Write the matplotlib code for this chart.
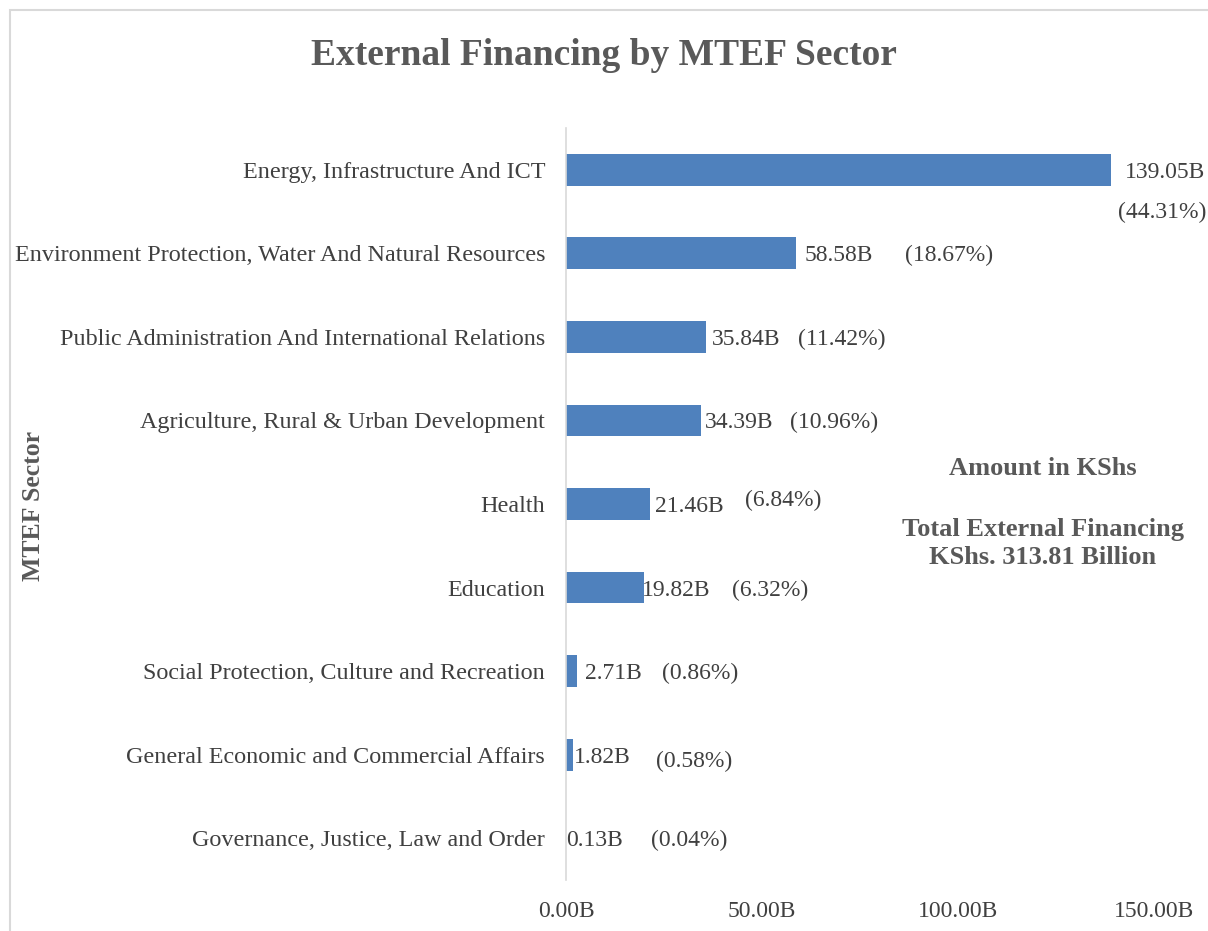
import matplotlib.pyplot as plt
from matplotlib.patches import Rectangle
from matplotlib.ticker import FuncFormatter

plt.rcParams['font.family'] = ['Liberation Serif', 'DejaVu Serif']

sectors = [
    "Energy, Infrastructure And ICT",
    "Environment Protection, Water And Natural Resources",
    "Public Administration And International Relations",
    "Agriculture, Rural & Urban Development",
    "Health",
    "Education",
    "Social Protection, Culture and Recreation",
    "General Economic and Commercial Affairs",
    "Governance, Justice, Law and Order",
]
amounts = [139.05, 58.58, 35.84, 34.39, 21.46, 19.82, 2.71, 1.82, 0.13]
shares = [44.31, 18.67, 11.42, 10.96, 6.84, 6.32, 0.86, 0.58, 0.04]

# label offsets from the bar end, in pixels (as placed in the original chart)
val_dx = [14, 9, 5, 4, 5, -2, 8, 1, 0]
pct_dx = [7, 109, 92, 89, 95, 88, 85, 83, 85]
pct_dy = [-40, 0, 0, 0, 6, 0, 0, -4, 0]

blue = '#4F81BD'
grey = '#595959'
dark = '#404040'

fig = plt.figure(figsize=(12.08, 9.31), dpi=100)
ax = fig.add_axes([0.4685, 0.0548, 0.4868, 0.8077])

y = list(range(len(sectors)))
ax.barh(y, amounts, height=0.38, color=blue)
ax.set_ylim(len(sectors) - 0.5, -0.5)
ax.set_xlim(0, 150)
ax.set_xticks([0, 50, 100, 150])
ax.xaxis.set_major_formatter(FuncFormatter(lambda v, p: f"{v:.2f}B"))
ax.set_yticks(y)
ax.set_yticklabels(sectors, fontsize=17.4)
ax.tick_params(axis='both', length=0, colors=grey)
ax.tick_params(axis='x', labelsize=17)
ax.tick_params(axis='y', pad=15, labelcolor=dark)
ax.tick_params(axis='x', pad=15, labelcolor=dark)
for s in ['top', 'right', 'bottom']:
    ax.spines[s].set_visible(False)
ax.spines['left'].set_color('#D9D9D9')
ax.spines['left'].set_linewidth(1.2)

for i, (v, p) in enumerate(zip(amounts, shares)):
    ax.annotate(f"{v:.2f}B", (v, i), xytext=(val_dx[i], 0), textcoords='offset pixels',
                va='center_baseline', ha='left', fontsize=17, color=dark)
    ax.annotate(f"({p:.2f}%)", (v, i), xytext=(pct_dx[i], pct_dy[i]), textcoords='offset pixels',
                va='center_baseline', ha='left', fontsize=17, color=dark)

fig.text(0.5, 0.940, "External Financing by MTEF Sector", ha='center', va='center',
         fontsize=27, fontweight='bold', color=grey)
fig.text(0.028, 0.457, "MTEF Sector", rotation=90, ha='center', va='center',
         fontsize=18.5, fontweight='bold', color=grey)
fig.text(0.863, 0.497, "Amount in KShs", ha='center', va='center',
         fontsize=19, fontweight='bold', color=grey)
fig.text(0.863, 0.416, "Total External Financing\nKShs. 313.81 Billion", ha='center', va='center',
         fontsize=19, fontweight='bold', color=grey, linespacing=1.25)

fig.add_artist(Rectangle((10 / 1208, -0.1), 1.2, 1.1 - 10 / 931, transform=fig.transFigure,
                         fill=False, edgecolor='#D9D9D9', linewidth=1.5))

fig.savefig('out.png', dpi=100)
